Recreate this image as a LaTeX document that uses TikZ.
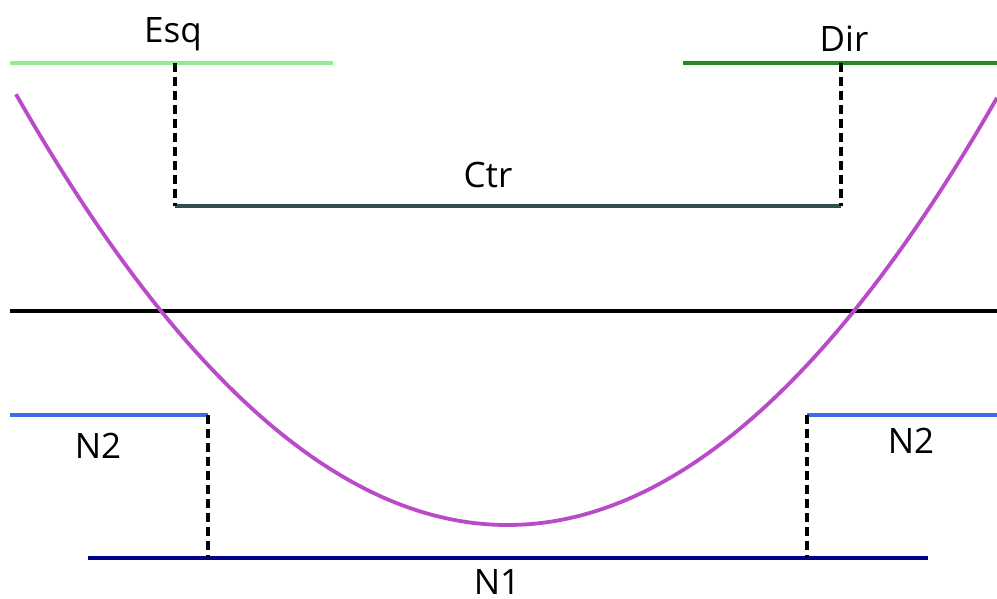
\documentclass[tikz,border=0pt]{standalone}
\usepackage{fontspec}
\setmainfont{Open Sans}
\definecolor{esqc}{HTML}{90EE90}
\definecolor{dirc}{HTML}{228B22}
\definecolor{ctrc}{HTML}{2F4F4F}
\definecolor{n2c}{HTML}{4169E1}
\definecolor{n1c}{HTML}{00008B}
\definecolor{curvec}{HTML}{BA4BC8}
\begin{document}
\begin{tikzpicture}[x=1pt,y=-1pt,
  lvl/.style={line width=3.4pt},
  guide/.style={line width=3.4pt, dash pattern=on 9pt off 5pt},
  lbl/.style={anchor=base, inner sep=0pt, font=\fontsize{35}{40}\selectfont}]
\useasboundingbox (0,0) rectangle (997,599);
% coordinates
\coordinate (esqL) at (10,63);
\coordinate (esqR) at (333,63);
\coordinate (esqD) at (175,63);
\coordinate (dirL) at (683,63);
\coordinate (dirR) at (997,63);
\coordinate (dirD) at (841,63);
\coordinate (ctrL) at (175,206);
\coordinate (ctrR) at (841,206);
\coordinate (midL) at (10,311);
\coordinate (midR) at (997,311);
\coordinate (n2lL) at (10,415);
\coordinate (n2lR) at (208,415);
\coordinate (n2rL) at (807,415);
\coordinate (n2rR) at (997,415);
\coordinate (n1L) at (88,558);
\coordinate (n1R) at (928,558);
\coordinate (n1a) at (208,558);
\coordinate (n1b) at (807,558);
% labels
\node[lbl] (tesq) at (173,43) {Esq};
\node[lbl] (tdir) at (844,52) {Dir};
\node[lbl] (tctr) at (488,188) {Ctr};
\node[lbl] (tn2l) at (98,458) {N2};
\node[lbl] (tn2r) at (911,453) {N2};
\node[lbl] (tn1) at (497,594) {N1};
% lines
\draw[lvl, esqc] (esqL) -- (esqR);
\draw[lvl, dirc] (dirL) -- (dirR);
\draw[lvl, ctrc] (ctrL) -- (ctrR);
\draw[lvl, black] (midL) -- (midR);
\draw[lvl, n2c] (n2lL) -- (n2lR);
\draw[lvl, n2c] (n2rL) -- (n2rR);
\draw[lvl, n1c] (n1L) -- (n1R);
\draw[guide] (esqD) -- (ctrL);
\draw[guide] (dirD) -- (ctrR);
\draw[guide] (n2lR) -- (n1a);
\draw[guide] (n2rL) -- (n1b);
% curve
\draw[line width=3.8pt, curvec] plot[domain=16:997, samples=120, smooth]
  (\x, {525 - 17.83*((\x-507.5)/100)^2});
\end{tikzpicture}
\end{document}
